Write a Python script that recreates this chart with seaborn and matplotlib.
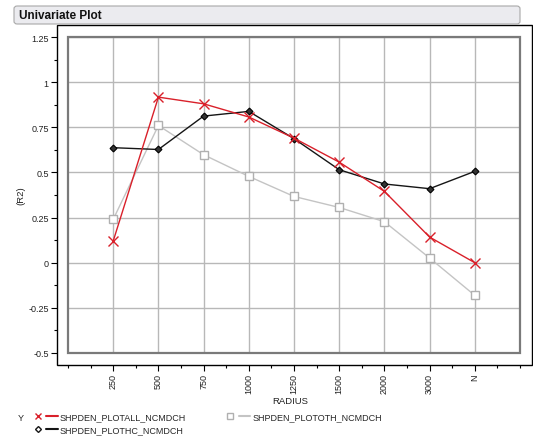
import numpy as np
import pandas as pd
import matplotlib
matplotlib.use("Agg")
import matplotlib.pyplot as plt
import seaborn as sns
from matplotlib.lines import Line2D
from matplotlib.patches import Rectangle, FancyBboxPatch
from matplotlib.legend_handler import HandlerTuple

# data
radius = ["250", "500", "750", "1000", "1250", "1500", "2000", "3000", "N"]
plotall = [0.12, 0.917, 0.88, 0.807, 0.69, 0.557, 0.395, 0.142, 0.0]
plothc = [0.637, 0.627, 0.812, 0.838, 0.687, 0.515, 0.436, 0.41, 0.506]
plototh = [0.24, 0.76, 0.598, 0.478, 0.367, 0.306, 0.227, 0.026, -0.181]
series_names = ["SHPDEN_PLOTALL_NCMDCH", "SHPDEN_PLOTHC_NCMDCH", "SHPDEN_PLOTOTH_NCMDCH"]
y_ticks = [-0.5, -0.25, 0, 0.25, 0.5, 0.75, 1, 1.25]
y_labels = ["-0.5", "-0.25", "0", "0.25", "0.5", "0.75", "1", "1.25"]

sns.set_style("white")
plt.rcParams["font.family"] = ["Liberation Sans", "DejaVu Sans"]

W, H = 533, 439
PT = 0.72  # points per pixel at dpi 100
fig = plt.figure(figsize=(W / 100, H / 100), dpi=100)

def fx(px):
    return px / W

def fy(py):
    return 1 - py / H

# inner plot box (px): x 68..520, y 38..354
ax = fig.add_axes([fx(68), fy(354), fx(520 - 68), (354 - 38) / H])

df = pd.DataFrame({
    "radius": radius * 3,
    "r2": plotall + plothc + plototh,
    "series": [series_names[0]] * 9 + [series_names[1]] * 9 + [series_names[2]] * 9,
})

red = "#d9202a"
dark = "#151515"
grey = "#c4c4c4"

sns.lineplot(data=df[df.series == series_names[2]], x="radius", y="r2", ax=ax,
             color=grey, lw=1, marker="s", ms=6, mfc="white", mec="#b0b0b0",
             mew=1, legend=False, zorder=3)
sns.lineplot(data=df[df.series == series_names[1]], x="radius", y="r2", ax=ax,
             color=dark, lw=1, marker="D", ms=3.5, mfc="#333333", mec="#000000",
             mew=0.8, legend=False, zorder=4)
sns.lineplot(data=df[df.series == series_names[0]], x="radius", y="r2", ax=ax,
             color=red, lw=1, marker="x", ms=7, mec=red, mew=1,
             legend=False, zorder=5)

ax.set_xlim(-1, 9)
ax.set_ylim(-0.5, 1.25)
ax.set_xticks(range(len(radius)))
ax.set_xticklabels(radius)
ax.set_xticks(np.arange(-1, 9.01, 0.5), minor=True)
ax.set_yticks(y_ticks)
ax.set_yticklabels(y_labels)
ax.set_yticks(np.arange(-0.5, 1.26, 0.125), minor=True)
ax.grid(True, which="major", color="#b8b8b8", lw=1)
ax.set_axisbelow(True)

for s in ax.spines.values():
    s.set_color("none")
# ticks sit on the outer frame (11 px left, 12 px below the inner box)
ax.spines["left"].set_position(("outward", 11 * PT))
ax.spines["bottom"].set_position(("outward", 12 * PT))
ax.tick_params(axis="both", which="major", length=4, width=0.8, color="#000000",
               pad=2, labelsize=6.5, labelcolor="#222222")
ax.tick_params(axis="both", which="minor", length=2, width=0.8, color="#000000")
ax.tick_params(left=True, bottom=True, which="both")
ax.tick_params(axis="x", which="major", labelrotation=90)

ax.set_xlabel("RADIUS", fontsize=6.8, color="#222222")
ax.set_ylabel("(R2)", fontsize=6.8, color="#222222")
ax.xaxis.set_label_coords((290 - 68) / 452, (354 - 397) / 316)
ax.yaxis.set_label_coords((25 - 68) / 452, 0.5)

# inner grey box and outer black frame
ax.add_patch(Rectangle((0, 0), 1, 1, transform=ax.transAxes, fill=False,
                       ec="#7a7a7a", lw=1.6, clip_on=False, zorder=6))
fig.patches.append(Rectangle((fx(57), fy(366)), fx(532 - 57), (366 - 26) / H,
                             transform=fig.transFigure, fill=False, ec="black",
                             lw=1, zorder=0))

# title bar
fig.patches.append(FancyBboxPatch((fx(14), fy(25)), fx(520 - 14), 18 / H,
                                  boxstyle="round,pad=0,rounding_size=0.006",
                                  transform=fig.transFigure, fc="#ebebef",
                                  ec="#a8a8a8", lw=0.8))
fig.text(fx(19), fy(16), "Univariate Plot", fontsize=8.5, fontweight="bold",
         va="center", ha="left", color="#111111")

# legend
h_all = (Line2D([], [], ls="none", marker="x", color=red, ms=5, mew=1),
         Line2D([], [], color=red, lw=1.5))
h_hc = (Line2D([], [], ls="none", marker="D", color=dark, mfc="white", ms=3, mew=1),
        Line2D([], [], color=dark, lw=1.5))
h_oth = (Line2D([], [], ls="none", marker="s", color="#b0b0b0", mfc="white", ms=4, mew=1),
         Line2D([], [], color=grey, lw=1.5))
fig.text(fx(18), fy(419), "Y", fontsize=6.5, va="center", ha="left", color="#222222")
fig.legend([h_all, h_hc, h_oth], series_names, ncol=2, loc="upper left",
           bbox_to_anchor=(fx(32), fy(413)), frameon=False, fontsize=6.5,
           handler_map={tuple: HandlerTuple(ndivide=None, pad=0.3)},
           handlelength=2.9, handletextpad=0.2, columnspacing=4.2,
           labelspacing=0.5, borderpad=0, borderaxespad=0)

fig.savefig("out.png", dpi=100)
